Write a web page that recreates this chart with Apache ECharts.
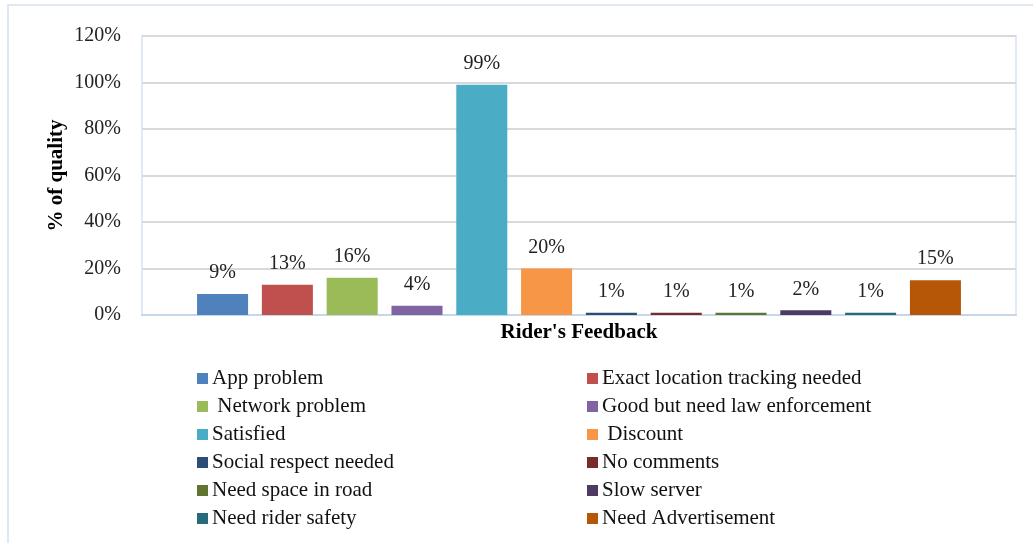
<!DOCTYPE html>
<html>
<head>
    <meta charset="utf-8">
    <title>Rider's Feedback</title>
    <script src="https://cdn.jsdelivr.net/npm/echarts@6/dist/echarts.min.js"></script>
    <style>
        html, body { margin: 0; padding: 0; background: #fff; }
    </style>
</head>
<body>
<div id="main" style="width: 1033px;height:543px;"></div>

<script type="text/javascript">
    // feedback categories, one bar each
    var names = ['App problem', 'Exact location tracking needed', ' Network problem',
        'Good but need law enforcement', 'Satisfied', ' Discount', 'Social respect needed',
        'No comments', 'Need space in road', 'Slow server', 'Need rider safety', 'Need Advertisement'];
    var values = [9, 13, 16, 4, 99, 20, 1, 1, 1, 2, 1, 15];
    var colors = ['#4F81BD', '#C0504D', '#9BBB59', '#8064A2', '#4BACC6', '#F79646',
        '#2C4D75', '#772C2A', '#5F7530', '#4D3B62', '#276A7C', '#B65708'];
    var category = ["Rider's Feedback"];

    var font = "'Liberation Serif', 'Times New Roman', serif";
    var myChart = echarts.init(document.getElementById('main'));

    var series = [];
    for (var i = 0; i < names.length; i++) {
        series.push({
            name: names[i],
            type: 'bar',
            data: [values[i]],
            itemStyle: { color: colors[i] },
            barGap: '27%',
            barCategoryGap: '12.6%',
            label: {
                show: true,
                position: 'top',
                distance: 11,
                formatter: '{c}%',
                fontFamily: font,
                fontSize: 20,
                color: '#222'
            }
        });
    }

    // legend is laid out in two columns, alternating
    var leftNames = [], rightNames = [];
    for (var j = 0; j < names.length; j++) {
        if (j % 2 === 0) leftNames.push(names[j]); else rightNames.push(names[j]);
    }
    var legendBase = {
        orient: 'vertical',
        top: 368,
        padding: 0,
        itemWidth: 11,
        itemHeight: 11,
        itemGap: 7,
        icon: 'rect',
        textStyle: { fontFamily: font, fontSize: 21, color: '#111', padding: [0, 0, 0, -1] }
    };

    var option = {
        backgroundColor: '#fff',
        textStyle: { fontFamily: font },
        color: colors,
        graphic: [{
            type: 'rect',
            shape: { x: 8, y: 5, width: 1040, height: 560 },
            style: { fill: 'none', stroke: '#dfe8f3', lineWidth: 2 },
            silent: true
        }],
        grid: {
            left: 142, right: 17, top: 36, bottom: 228,
            show: true,
            borderColor: '#e1e9f4',
            borderWidth: 2
        },
        legend: [
            Object.assign({}, legendBase, { left: 197, data: leftNames }),
            Object.assign({}, legendBase, { left: 587, data: rightNames })
        ],
        xAxis: {
            type: 'category',
            data: category,
            name: category[0],
            nameLocation: 'middle',
            nameGap: 7,
            nameTextStyle: { fontFamily: font, fontSize: 21, fontWeight: 'bold', color: '#000' },
            axisLabel: { show: false },
            axisTick: { show: false },
            axisLine: { lineStyle: { color: '#c7d6ea', width: 2 } }
        },
        yAxis: {
            type: 'value',
            min: 0,
            max: 120,
            interval: 20,
            name: '% of quality',
            nameLocation: 'middle',
            nameMoveOverlap: false,
            nameGap: 75,
            nameTextStyle: { fontFamily: font, fontSize: 21, fontWeight: 'bold', color: '#000' },
            axisLabel: { formatter: '{value}%', fontFamily: font, fontSize: 20, color: '#222', margin: 21 },
            axisTick: { show: false },
            axisLine: { show: false },
            splitLine: { lineStyle: { color: '#d9d9d9', width: 2 } }
        },
        series: series
    };

    myChart.setOption(option);
</script>
</body>
</html>
